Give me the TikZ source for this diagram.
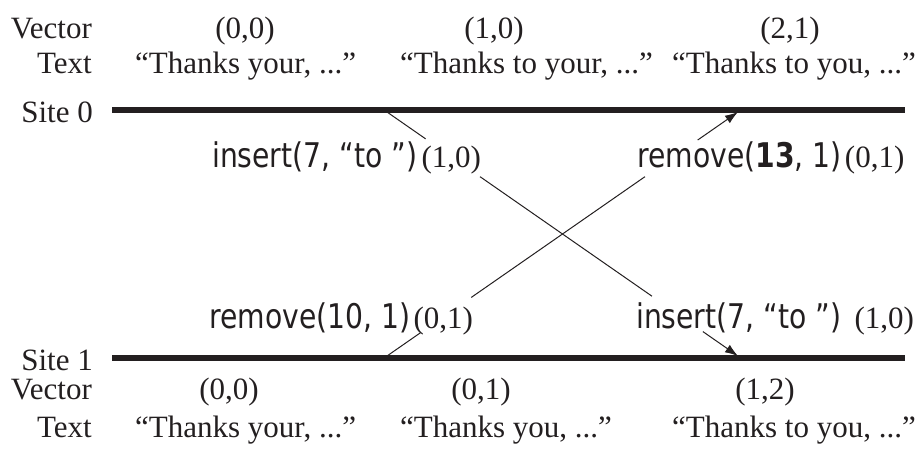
\documentclass[tikz,border=0pt]{standalone}
\usepackage{fontspec}
\setmainfont{Liberation Serif}
\newfontfamily\sanslbl{DejaVu Sans}[FakeStretch=0.83]
\usetikzlibrary{arrows.meta,calc}
\definecolor{ink}{RGB}{35,31,32}
\begin{document}
\begin{tikzpicture}[x=1pt,y=-1pt,
  txt/.style={font=\fontsize{31}{36}\selectfont, text=ink, inner sep=0pt},
  op/.style={font=\sanslbl\fontsize{34}{40}\selectfont, text=ink, inner sep=0pt},
  siteline/.style={line width=6pt, draw=ink},
  msg/.style={line width=1pt, draw=ink},
  arr/.style={msg, -{Latex[length=13pt,width=9pt]}}]
\useasboundingbox (0,0) rectangle (922,453);

% top rows
\node[txt, anchor=base east] (vecT) at (92,38) {Vector};
\node[txt, anchor=base] (vT1) at (245,38) {(0,0)};
\node[txt, anchor=base] (vT2) at (494,38) {(1,0)};
\node[txt, anchor=base] (vT3) at (790,38) {(2,1)};
\node[txt, anchor=base east] (textT) at (92,73) {Text};
\node[txt, anchor=base west] (tT1) at (135,73) {“Thanks your, ...”};
\node[txt, anchor=base west] (tT2) at (400,73) {“Thanks to your, ...”};
\node[txt, anchor=base west] (tT3) at (672,73) {“Thanks to you, ...”};

% sites
\node[txt, anchor=base east] (site0) at (93,122) {Site 0};
\node[txt, anchor=base east] (site1) at (93,370) {Site 1};
\coordinate (s0a) at (112,110);
\coordinate (s0b) at (905,110);
\coordinate (s1a) at (112,358);
\coordinate (s1b) at (905,358);
\draw[siteline] (s0a) -- (s0b);
\draw[siteline] (s1a) -- (s1b);

% bottom rows
\node[txt, anchor=base east] (vecB) at (92,399) {Vector};
\node[txt, anchor=base] (vB1) at (229,399) {(0,0)};
\node[txt, anchor=base] (vB2) at (481,399) {(0,1)};
\node[txt, anchor=base] (vB3) at (765,399) {(1,2)};
\node[txt, anchor=base east] (textB) at (92,437) {Text};
\node[txt, anchor=base west] (tB1) at (135,437) {“Thanks your, ...”};
\node[txt, anchor=base west] (tB2) at (400,437) {“Thanks you, ...”};
\node[txt, anchor=base west] (tB3) at (672,437) {“Thanks to you, ...”};

% operation labels
\node[op, anchor=base west] (ins0) at (212,167) {insert(7, “to ”)};
\node[txt, anchor=base west] (ins0v) at ([xshift=4pt]ins0.base east) {(1,0)};
\node[op, anchor=base west] (rem0) at (637,167) {remove(\textbf{13}, 1)};
\node[txt, anchor=base west] (rem0v) at ([xshift=3pt]rem0.base east) {(0,1)};
\node[op, anchor=base west] (rem1) at (209,328) {remove(10, 1)};
\node[txt, anchor=base west] (rem1v) at ([xshift=3pt]rem1.base east) {(0,1)};
\node[op, anchor=base west] (ins1) at (636,328) {insert(7, “to ”)};
\node[txt, anchor=base west] (ins1v) at ([xshift=13pt]ins1.base east) {(1,0)};

% messages
\coordinate (m1s) at (387,112);
\coordinate (m1e) at (738,356);
\coordinate (m2s) at (387,356);
\coordinate (m2e) at (738,112);
\draw[msg] (m1s) -- ($(m1s)!0.11!(m1e)$);
\draw[msg] ($(m1s)!0.265!(m1e)$) -- ($(m1s)!0.755!(m1e)$);
\draw[arr] ($(m1s)!0.9!(m1e)$) -- (m1e);
\draw[msg] (m2s) -- ($(m2s)!0.095!(m2e)$);
\draw[msg] ($(m2s)!0.24!(m2e)$) -- ($(m2s)!0.735!(m2e)$);
\draw[arr] ($(m2s)!0.885!(m2e)$) -- (m2e);
\end{tikzpicture}
\end{document}
